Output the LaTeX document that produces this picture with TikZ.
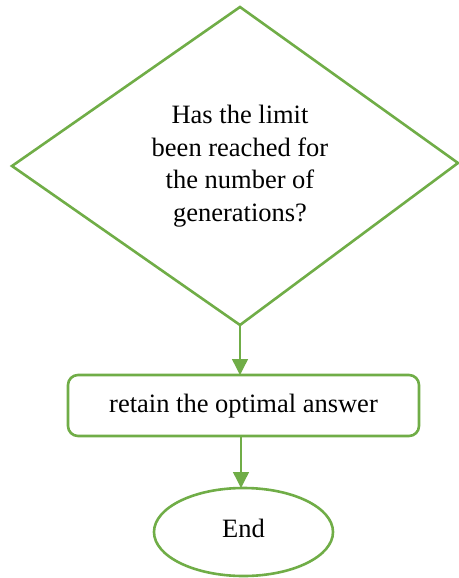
\documentclass[tikz,border=0pt]{standalone}
\usepackage{fontspec}
\setmainfont{Liberation Serif}
\usetikzlibrary{shapes.geometric,arrows.meta}
\definecolor{flowgreen}{RGB}{112,173,71}
\begin{document}
\begin{tikzpicture}[x=1pt,y=-1pt,
  outline/.style={draw=flowgreen,line width=2.6pt},
  flowarrow/.style={draw=flowgreen,line width=1.4pt,-{Triangle[width=16pt,length=16pt]}},
  label/.style={font=\fontsize{26.5}{32.5}\selectfont,align=center}]
  \useasboundingbox (0,0) rectangle (458,578);
  % decision diamond
  \coordinate (dtop) at (240,7);
  \coordinate (dleft) at (12,166);
  \coordinate (dright) at (458,163);
  \coordinate (dbot) at (240,325);
  \draw[outline,line join=miter] (dtop) -- (dright) -- (dbot) -- (dleft) -- cycle;
  \node[label] (q) at (240,166) {Has the limit\\been reached for\\the number of\\generations?};
  % process box
  \draw[outline,rounded corners=10pt] (68,375) rectangle (419,436);
  \node[label] (retain) at (243.5,406) {retain the optimal answer};
  \coordinate (rtop) at (240,375);
  \coordinate (rbot) at (241,436);
  % terminal ellipse
  \node[outline,ellipse,minimum width=179pt,minimum height=88pt,inner sep=0pt] (end) at (243.5,532) {};
  \node[label] (endtext) at (243.5,528) {End};
  \coordinate (etop) at (241,488);
  % connectors
  \draw[flowarrow] (dbot) -- (rtop);
  \draw[flowarrow] (rbot) -- (etop);
\end{tikzpicture}
\end{document}
